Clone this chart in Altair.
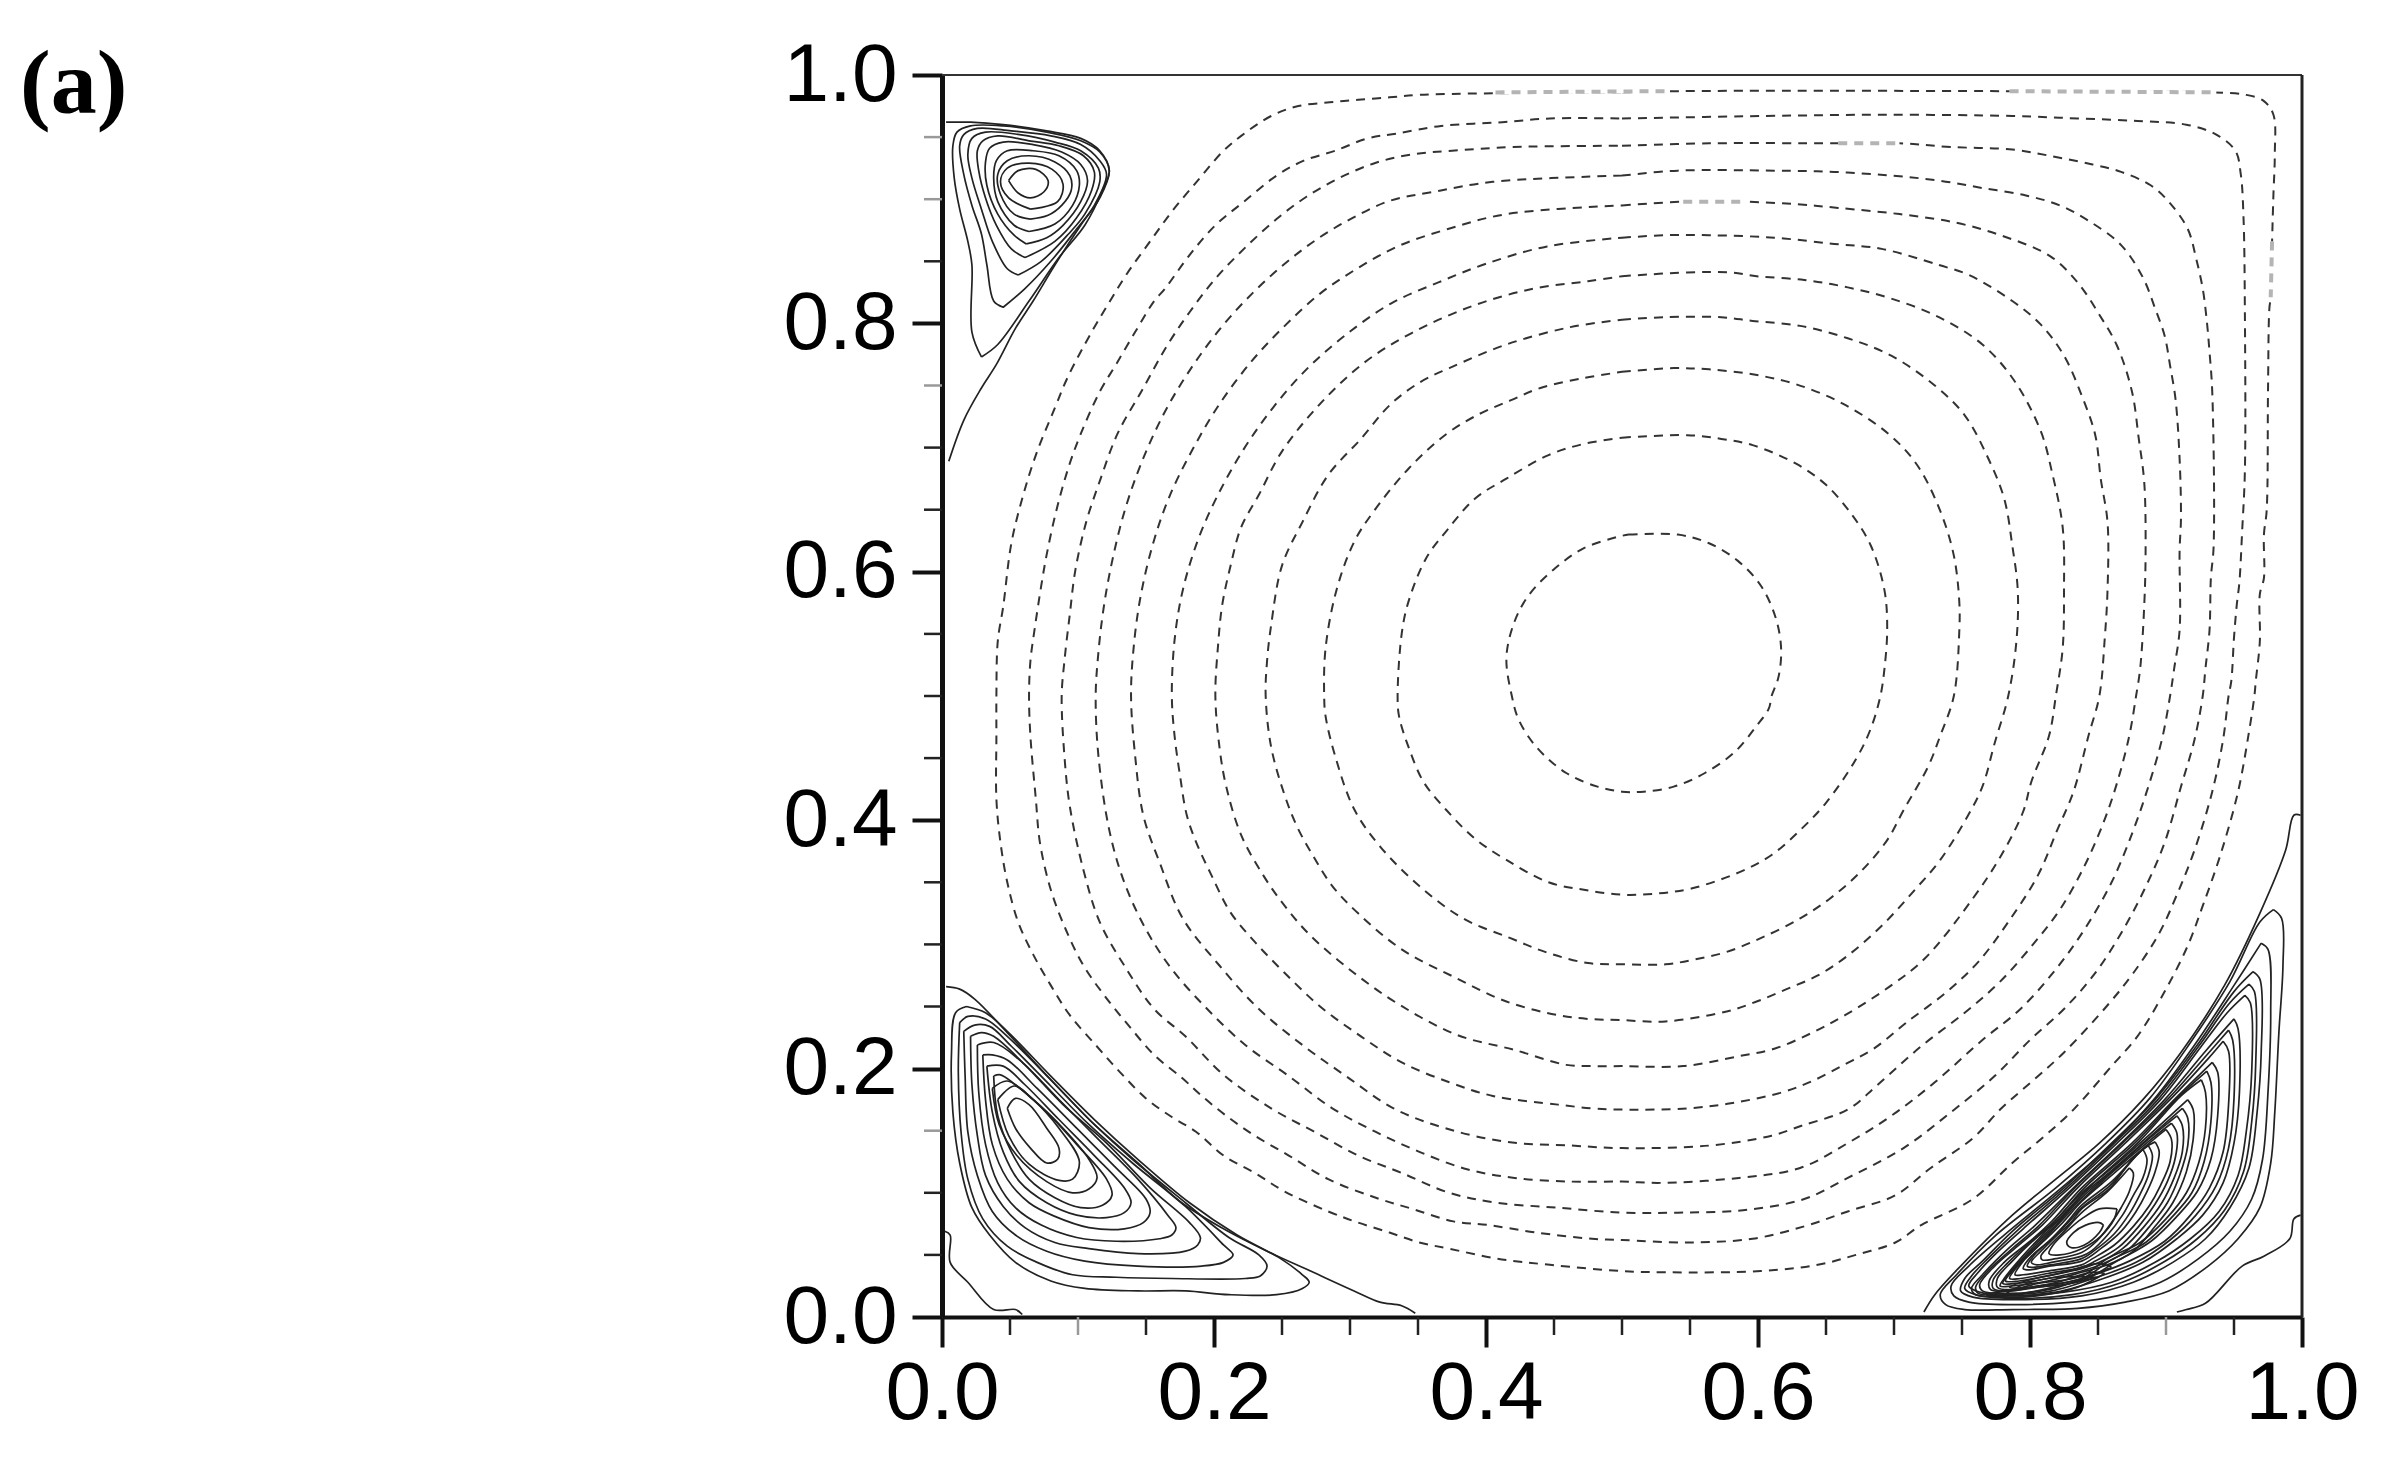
import altair as alt
import pandas as pd

c1 = [(.505,.630),(.541,.630),(.564,.623),(.585,.609),(.602,.589),(.613,.563),(.617,.538),(.615,.515),(.610,.500),(.608,.490),(.599,.476),(.583,.455),(.561,.438),(.538,.427),(.516,.423),(.500,.423),(.482,.427),(.459,.438),(.437,.459),(.424,.481),(.419,.500),(.415,.531),(.421,.560),(.432,.582),(.451,.603),(.472,.619),(.500,.629)]
c2 = [(.500,.708),(.548,.710),(.573,.707),(.596,.702),(.628,.687),(.650,.670),(.669,.646),(.683,.621),(.693,.585),(.695,.554),(.693,.522),(.690,.500),(.683,.474),(.672,.449),(.650,.414),(.631,.392),(.610,.372),(.586,.358),(.551,.345),(.526,.341),(.500,.340),(.472,.344),(.446,.350),(.415,.368),(.392,.385),(.371,.408),(.354,.431),(.343,.459),(.336,.484),(.335,.500),(.338,.550),(.343,.576),(.356,.611),(.371,.633),(.392,.659),(.415,.675),(.446,.694),(.472,.703)]
c3 = [(.500,.761),(.538,.764),(.564,.763),(.596,.759),(.628,.751),(.663,.735),(.696,.711),(.717,.686),(.734,.649),(.744,.613),(.748,.576),(.748,.552),(.744,.500),(.734,.468),(.725,.443),(.707,.408),(.695,.384),(.675,.358),(.653,.337),(.631,.321),(.602,.305),(.577,.294),(.554,.288),(.532,.284),(.500,.284),(.475,.285),(.446,.293),(.418,.305),(.383,.321),(.351,.347),(.322,.379),(.303,.409),(.289,.452),(.282,.484),(.281,.500),(.282,.538),(.290,.585),(.303,.624),(.317,.648),(.343,.683),(.371,.711),(.395,.727),(.418,.738),(.440,.748),(.472,.756)]
c4 = [(.500,.803),(.532,.805),(.573,.805),(.596,.802),(.631,.798),(.666,.788),(.698,.774),(.730,.750),(.752,.726),(.769,.692),(.781,.659),(.787,.621),(.791,.585),(.790,.544),(.784,.500),(.774,.462),(.765,.427),(.754,.403),(.734,.368),(.717,.346),(.691,.315),(.666,.291),(.644,.275),(.621,.264),(.599,.254),(.577,.246),(.532,.238),(.500,.239),(.475,.240),(.453,.243),(.415,.254),(.376,.274),(.338,.296),(.306,.325),(.287,.347),(.273,.371),(.261,.395),(.252,.420),(.242,.459),(.238,.500),(.239,.528),(.242,.557),(.250,.605),(.265,.640),(.284,.678),(.308,.707),(.330,.735),(.352,.753),(.373,.764),(.415,.783),(.462,.797)]
c5 = [(.500,.838),(.548,.841),(.580,.841),(.599,.838),(.634,.835),(.666,.829),(.698,.820),(.733,.805),(.765,.783),(.789,.753),(.808,.713),(.816,.681),(.824,.636),(.825,.585),(.824,.538),(.819,.500),(.814,.468),(.801,.431),(.795,.407),(.779,.372),(.758,.337),(.723,.289),(.698,.267),(.664,.243),(.640,.229),(.612,.216),(.586,.210),(.545,.202),(.500,.202),(.478,.202),(.459,.203),(.421,.215),(.379,.227),(.337,.251),(.303,.277),(.271,.307),(.252,.331),(.236,.356),(.220,.388),(.209,.427),(.204,.459),(.201,.500),(.203,.541),(.206,.573),(.212,.604),(.220,.636),(.233,.662),(.250,.697),(.277,.734),(.310,.768),(.345,.792),(.390,.814),(.435,.828),(.475,.834)]
c6 = [(.500,.869),(.532,.871),(.564,.871),(.612,.869),(.656,.864),(.691,.860),(.733,.847),(.755,.839),(.787,.818),(.808,.799),(.825,.774),(.838,.742),(.848,.710),(.852,.675),(.857,.640),(.857,.585),(.855,.547),(.851,.500),(.843,.468),(.832,.423),(.820,.392),(.806,.356),(.784,.318),(.762,.286),(.739,.262),(.709,.237),(.685,.216),(.663,.203),(.640,.190),(.618,.181),(.585,.173),(.549,.168),(.500,.167),(.478,.168),(.453,.171),(.405,.178),(.373,.189),(.338,.205),(.308,.226),(.278,.250),(.252,.277),(.230,.302),(.212,.326),(.198,.356),(.187,.382),(.180,.404),(.175,.436),(.171,.468),(.169,.500),(.171,.545),(.177,.585),(.188,.625),(.202,.660),(.222,.699),(.244,.733),(.268,.763),(.296,.790),(.330,.816),(.365,.833),(.400,.848),(.445,.862)]
c7 = [(.500,.895),(.545,.898),(.589,.898),(.628,.896),(.659,.893),(.704,.888),(.746,.881),(.781,.870),(.815,.854),(.835,.833),(.851,.807),(.864,.782),(.875,.745),(.880,.707),(.884,.672),(.885,.617),(.884,.573),(.881,.522),(.878,.500),(.873,.468),(.864,.430),(.854,.398),(.840,.363),(.822,.328),(.803,.301),(.778,.270),(.752,.245),(.720,.218),(.687,.186),(.666,.167),(.632,.154),(.610,.146),(.564,.138),(.500,.136),(.463,.138),(.415,.141),(.370,.152),(.332,.168),(.297,.194),(.265,.219),(.233,.248),(.204,.283),(.177,.321),(.160,.366),(.148,.404),(.142,.452),(.139,.500),(.141,.540),(.146,.580),(.155,.622),(.167,.660),(.184,.698),(.204,.735),(.228,.770),(.252,.798),(.278,.824),(.305,.844),(.335,.862),(.372,.876),(.415,.888)]
c8 = [(.500,.919),(.541,.923),(.612,.923),(.656,.922),(.698,.919),(.733,.915),(.765,.909),(.797,.903),(.822,.895),(.844,.882),(.867,.863),(.883,.837),(.892,.812),(.899,.790),(.903,.766),(.907,.739),(.910,.691),(.911,.643),(.910,.617),(.910,.553),(.906,.522),(.903,.500),(.897,.465),(.887,.427),(.876,.392),(.860,.350),(.840,.312),(.819,.280),(.793,.248),(.765,.223),(.730,.189),(.698,.162),(.666,.140),(.631,.120),(.586,.112),(.529,.108),(.500,.109),(.463,.109),(.421,.112),(.386,.119),(.351,.133),(.319,.149),(.287,.168),(.255,.194),(.223,.219),(.195,.248),(.169,.280),(.150,.312),(.134,.350),(.123,.392),(.115,.452),(.113,.500),(.115,.535),(.119,.572),(.125,.608),(.134,.648),(.146,.686),(.163,.727),(.182,.762),(.204,.795),(.228,.824),(.252,.848),(.276,.868),(.302,.885),(.330,.899),(.362,.906),(.405,.914)]
c9 = [(.500,.943),(.564,.945),(.659,.945),(.704,.945),(.742,.942),(.787,.940),(.819,.934),(.846,.928),(.867,.922),(.889,.911),(.902,.898),(.916,.876),(.922,.853),(.927,.828),(.930,.802),(.932,.777),(.934,.745),(.935,.620),(.933,.595),(.932,.553),(.929,.522),(.927,.500),(.921,.465),(.911,.427),(.899,.382),(.884,.344),(.867,.309),(.848,.277),(.825,.248),(.800,.223),(.774,.194),(.742,.165),(.707,.136),(.666,.112),(.634,.095),(.589,.086),(.541,.084),(.500,.084),(.453,.088),(.408,.092),(.373,.100),(.338,.116),(.306,.130),(.274,.149),(.242,.168),(.207,.195),(.179,.226),(.156,.248),(.134,.283),(.116,.318),(.104,.360),(.094,.411),(.090,.452),(.088,.500),(.090,.528),(.094,.566),(.098,.601),(.106,.640),(.116,.673),(.129,.711),(.147,.746),(.166,.783),(.182,.809),(.201,.836),(.222,.860),(.246,.884),(.268,.902),(.292,.917),(.318,.929),(.345,.936),(.375,.939),(.420,.942)]
c10 = [(.500,.965),(.605,.967),(.691,.968),(.787,.967),(.835,.965),(.879,.963),(.915,.960),(.937,.952),(.951,.939),(.955,.920),(.957,.885),(.958,.809),(.958,.681),(.956,.633),(.954,.592),(.952,.573),(.950,.547),(.948,.512),(.946,.500),(.942,.465),(.934,.423),(.921,.376),(.908,.340),(.895,.309),(.876,.277),(.857,.251),(.825,.213),(.806,.194),(.779,.168),(.758,.144),(.727,.120),(.701,.098),(.666,.085),(.634,.073),(.596,.063),(.548,.060),(.500,.062),(.478,.063),(.437,.068),(.402,.074),(.376,.077),(.346,.087),(.319,.096),(.284,.111),(.255,.130),(.230,.146),(.209,.162),(.191,.178),(.177,.192),(.156,.211),(.137,.235),(.120,.258),(.104,.283),(.091,.312),(.080,.344),(.072,.382),(.069,.417),(.065,.468),(.064,.500),(.065,.528),(.068,.553),(.073,.589),(.077,.614),(.084,.649),(.093,.684),(.102,.711),(.116,.745),(.128,.767),(.142,.793),(.156,.818),(.164,.828),(.182,.855),(.201,.879),(.222,.898),(.246,.919),(.266,.931),(.289,.939),(.313,.949),(.335,.953),(.367,.959),(.412,.962),(.447,.965)]
c11 = [(.500,.986),(.541,.987),(.781,.987),(.934,.986),(.959,.984),(.972,.979),(.979,.968),(.980,.936),(.979,.904),(.978,.866),(.977,.821),(.976,.812),(.975,.745),(.974,.649),(.972,.630),(.972,.595),(.969,.582),(.969,.544),(.966,.512),(.965,.500),(.961,.471),(.953,.423),(.940,.372),(.927,.331),(.916,.299),(.899,.262),(.879,.226),(.860,.202),(.832,.167),(.811,.146),(.787,.124),(.758,.095),(.720,.074),(.701,.060),(.672,.050),(.644,.042),(.602,.037),(.532,.036),(.500,.037),(.447,.042),(.408,.047),(.373,.055),(.351,.060),(.329,.068),(.306,.076),(.284,.085),(.252,.101),(.230,.116),(.207,.130),(.187,.149),(.169,.161),(.150,.176),(.131,.197),(.113,.219),(.094,.243),(.080,.267),(.067,.292),(.056,.318),(.048,.350),(.043,.382),(.040,.417),(.040,.468),(.040,.500),(.041,.544),(.045,.572),(.051,.623),(.059,.659),(.069,.694),(.083,.732),(.093,.758),(.110,.793),(.123,.817),(.136,.840),(.153,.866),(.169,.890),(.188,.915),(.207,.939),(.220,.951),(.242,.967),(.262,.975),(.285,.978),(.306,.980),(.329,.982),(.351,.984),(.386,.985)]

# stretches of the dashed contours that print pale grey
pale1 = [(.407,.986),(.535,.987)]
pale2 = [(.785,.987),(.937,.986)]
pale3 = [(.978,.866),(.977,.821)]
pale4 = [(.659,.945),(.704,.945)]
pale5 = [(.545,.898),(.589,.898)]

# solid open lines along the cell walls
wall_tl = [(.005,.689),(.016,.722),(.029,.748),(.040,.767),(.054,.796),(.067,.818),(.083,.847),(.102,.879),(.116,.901),(.123,.923),(.116,.939),(.102,.949),(.077,.955),(.045,.960),(.021,.962),(.003,.962)]
wall_bl = [(.003,.266),(.013,.264),(.024,.256),(.048,.229),(.080,.191),(.112,.155),(.144,.124),(.175,.093),(.207,.071),(.239,.053),(.271,.037),(.303,.021),(.322,.012),(.338,.009),(.348,.003)]
wall_bl2 = [(.002,.069),(.006,.066),(.006,.044),(.019,.028),(.038,.006),(.054,.006),(.059,.002)]
wall_br = [(.722,.004),(.730,.018),(.749,.041),(.787,.082),(.819,.111),(.851,.140),(.883,.175),(.911,.213),(.943,.267),(.969,.325),(.988,.376),(.994,.404),(.999,.404)]
wall_br2 = [(.908,.004),(.915,.006),(.929,.011),(.956,.041),(.972,.049),(.991,.063),(.994,.079),(.999,.082)]

# top-left eddy
v1 = [(.029,.773),(.022,.793),(.022,.847),(.019,.866),(.013,.892),(.009,.917),(.008,.943),(.011,.954),(.021,.959),(.045,.959),(.077,.954),(.102,.947),(.116,.938),(.123,.923),(.118,.907),(.105,.879),(.086,.853),(.064,.818),(.041,.783)]
v2 = [(.045,.813),(.038,.818),(.033,.847),(.029,.872),(.022,.895),(.016,.920),(.013,.943),(.016,.952),(.026,.957),(.051,.955),(.080,.951),(.102,.944),(.116,.931),(.121,.920),(.112,.895),(.099,.876),(.080,.850),(.061,.828)]
v3 = [(.056,.839),(.048,.844),(.037,.866),(.029,.892),(.022,.917),(.019,.936),(.022,.949),(.032,.954),(.057,.952),(.083,.946),(.102,.939),(.115,.925),(.116,.914),(.105,.888),(.093,.872),(.073,.850)]
v4 = [(.061,.853),(.051,.860),(.040,.879),(.032,.901),(.027,.923),(.026,.939),(.030,.947),(.041,.951),(.064,.947),(.086,.943),(.104,.935),(.112,.922),(.110,.907),(.099,.885),(.083,.866)]
v5 = [(.062,.864),(.053,.871),(.041,.888),(.033,.911),(.032,.930),(.035,.941),(.045,.946),(.067,.944),(.088,.938),(.102,.928),(.107,.915),(.102,.898),(.089,.879),(.077,.869)]
v6 = [(.064,.874),(.053,.879),(.041,.898),(.038,.917),(.040,.931),(.048,.939),(.067,.939),(.086,.935),(.099,.923),(.101,.911),(.096,.895),(.083,.880)]
v7 = [(.065,.884),(.053,.888),(.043,.904),(.041,.920),(.048,.931),(.064,.935),(.083,.930),(.094,.919),(.095,.907),(.088,.895),(.078,.887)]
v8 = [(.065,.892),(.049,.901),(.043,.914),(.048,.925),(.064,.929),(.081,.924),(.089,.912),(.085,.898)]
v9 = [(.049,.915),(.056,.923),(.069,.924),(.078,.915),(.075,.906),(.065,.901),(.056,.905)]

# bottom-left eddy
b1 = [(.018,.250),(.010,.245),(.007,.213),(.008,.165),(.013,.124),(.022,.088),(.035,.066),(.054,.044),(.080,.029),(.105,.023),(.144,.021),(.179,.021),(.211,.018),(.246,.018),(.265,.023),(.270,.028),(.265,.034),(.249,.047),(.217,.066),(.182,.092),(.144,.127),(.112,.159),(.080,.194),(.048,.230),(.032,.245)]
b2 = [(.013,.237),(.012,.197),(.014,.149),(.019,.111),(.030,.079),(.048,.057),(.070,.044),(.096,.034),(.128,.032),(.169,.031),(.223,.031),(.234,.033),(.239,.041),(.233,.050),(.211,.064),(.179,.092),(.140,.127),(.112,.155),(.080,.191),(.048,.226),(.032,.240),(.019,.242)]
b3 = [(.016,.230),(.017,.194),(.019,.149),(.026,.114),(.037,.085),(.054,.066),(.077,.053),(.105,.045),(.144,.041),(.191,.041),(.207,.044),(.214,.050),(.207,.058),(.179,.089),(.140,.124),(.108,.155),(.080,.186),(.051,.218),(.035,.234),(.024,.235)]
b4 = [(.021,.226),(.022,.187),(.026,.146),(.032,.114),(.045,.089),(.061,.072),(.083,.060),(.108,.055),(.144,.051),(.179,.053),(.188,.058),(.190,.064),(.182,.076),(.153,.104),(.121,.140),(.089,.171),(.061,.203),(.038,.226),(.029,.229)]
b5 = [(.026,.219),(.027,.181),(.032,.139),(.041,.108),(.054,.088),(.073,.074),(.099,.064),(.128,.061),(.160,.063),(.169,.066),(.172,.072),(.166,.082),(.144,.111),(.115,.143),(.086,.175),(.057,.207),(.038,.221)]
b6 = [(.030,.211),(.032,.175),(.037,.139),(.048,.111),(.064,.092),(.083,.081),(.108,.072),(.134,.071),(.148,.076),(.153,.084),(.150,.095),(.128,.120),(.099,.152),(.070,.184),(.048,.207),(.037,.211)]
b7 = [(.033,.202),(.037,.165),(.045,.133),(.057,.109),(.077,.092),(.099,.082),(.121,.080),(.134,.084),(.139,.092),(.134,.104),(.112,.130),(.086,.159),(.061,.187),(.045,.202)]
b8 = [(.038,.194),(.041,.162),(.051,.133),(.064,.111),(.083,.096),(.102,.088),(.118,.090),(.125,.098),(.121,.111),(.099,.139),(.077,.165),(.054,.187),(.043,.195)]
b9 = [(.037,.184),(.042,.155),(.055,.130),(.077,.109),(.096,.100),(.108,.103),(.114,.112),(.108,.127),(.089,.152),(.067,.175),(.048,.190)]
b10 = [(.041,.175),(.053,.186),(.067,.175),(.086,.152),(.101,.125),(.096,.111),(.086,.110),(.064,.123),(.049,.146)]
b11 = [(.048,.168),(.054,.176),(.064,.171),(.077,.152),(.086,.136),(.085,.127),(.077,.124),(.065,.136),(.054,.152)]

# bottom-right eddy
r1 = [(.979,.328),(.985,.321),(.986,.283),(.983,.229),(.980,.165),(.977,.124),(.969,.088),(.953,.063),(.931,.041),(.902,.021),(.870,.012),(.835,.007),(.787,.006),(.752,.006),(.738,.010),(.734,.018),(.746,.034),(.774,.065),(.819,.104),(.856,.140),(.888,.176),(.918,.221),(.947,.270),(.969,.318)]
r2 = [(.970,.301),(.975,.296),(.977,.245),(.975,.181),(.971,.127),(.963,.095),(.947,.069),(.924,.047),(.896,.028),(.864,.017),(.832,.012),(.787,.010),(.755,.012),(.744,.017),(.742,.025),(.755,.041),(.781,.066),(.822,.103),(.859,.138),(.891,.175),(.921,.219),(.950,.267)]
r3 = [(.964,.278),(.969,.272),(.970,.213),(.967,.165),(.961,.120),(.947,.088),(.929,.063),(.905,.044),(.876,.028),(.838,.017),(.787,.014),(.758,.016),(.749,.021),(.752,.031),(.765,.045),(.787,.069),(.825,.104),(.860,.140),(.892,.175),(.923,.219),(.950,.262)]
r3b = [(.961,.268),(.965,.262),(.966,.205),(.963,.157),(.957,.117),(.943,.086),(.923,.063),(.898,.044),(.868,.028),(.831,.018),(.787,.015),(.760,.018),(.752,.023),(.757,.033),(.769,.047),(.791,.070),(.827,.104),(.862,.140),(.894,.175),(.924,.218),(.947,.253)]
r4 = [(.958,.259),(.962,.253),(.963,.197),(.959,.149),(.953,.114),(.939,.085),(.918,.063),(.892,.044),(.860,.028),(.825,.020),(.787,.017),(.763,.020),(.755,.025),(.762,.036),(.774,.050),(.795,.071),(.829,.104),(.864,.140),(.896,.175),(.926,.218),(.945,.245)]
r5 = [(.950,.240),(.953,.232),(.954,.181),(.950,.140),(.942,.108),(.927,.082),(.908,.063),(.883,.044),(.854,.031),(.819,.020),(.787,.017),(.760,.018),(.757,.023),(.765,.034),(.784,.055),(.803,.073),(.832,.104),(.867,.140),(.899,.175),(.929,.214)]
r5b = [(.946,.231),(.949,.223),(.950,.176),(.946,.136),(.937,.106),(.922,.082),(.903,.062),(.878,.044),(.849,.032),(.816,.021),(.785,.018),(.762,.019),(.760,.024),(.769,.037),(.788,.056),(.806,.073),(.833,.104),(.868,.140),(.901,.175),(.930,.211)]
r6 = [(.942,.222),(.946,.214),(.946,.171),(.942,.133),(.932,.104),(.918,.082),(.899,.061),(.873,.045),(.845,.033),(.813,.022),(.784,.019),(.765,.021),(.763,.026),(.774,.041),(.792,.058),(.809,.074),(.835,.104),(.870,.140),(.903,.175),(.931,.208)]
r7 = [(.934,.205),(.938,.197),(.938,.162),(.933,.127),(.923,.101),(.908,.081),(.889,.061),(.864,.045),(.838,.029),(.806,.024),(.784,.021),(.771,.022),(.770,.029),(.781,.044),(.800,.061),(.816,.077),(.838,.104),(.875,.140),(.907,.176)]
r7b = [(.930,.198),(.933,.189),(.933,.157),(.928,.125),(.919,.100),(.904,.080),(.885,.060),(.860,.046),(.838,.031),(.806,.025),(.784,.021),(.773,.023),(.773,.030),(.784,.044),(.803,.063),(.819,.078),(.840,.104),(.877,.140),(.909,.177)]
r8 = [(.926,.191),(.929,.181),(.929,.152),(.924,.124),(.915,.100),(.900,.079),(.881,.060),(.857,.047),(.838,.033),(.806,.027),(.785,.022),(.776,.024),(.776,.031),(.787,.045),(.806,.065),(.822,.079),(.843,.104),(.880,.141),(.911,.178)]
r9 = [(.916,.175),(.920,.167),(.920,.143),(.915,.117),(.905,.092),(.892,.073),(.876,.053),(.857,.042),(.838,.036),(.813,.029),(.787,.025),(.778,.025),(.781,.031),(.793,.047),(.809,.066),(.838,.100),(.857,.117),(.884,.143)]
r9b = [(.912,.168),(.916,.160),(.916,.138),(.910,.114),(.901,.092),(.888,.073),(.872,.054),(.854,.043),(.838,.037),(.813,.031),(.789,.027),(.780,.027),(.784,.034),(.797,.050),(.814,.070),(.838,.098),(.858,.116),(.886,.143)]
r10 = [(.908,.162),(.912,.154),(.912,.133),(.906,.112),(.897,.092),(.884,.073),(.868,.055),(.851,.044),(.838,.039),(.813,.033),(.792,.029),(.782,.029),(.787,.037),(.801,.053),(.819,.074),(.838,.096),(.859,.116),(.888,.144)]
r10b = [(.904,.156),(.908,.148),(.907,.129),(.901,.109),(.892,.091),(.880,.073),(.865,.056),(.848,.045),(.838,.040),(.813,.035),(.793,.031),(.785,.031),(.791,.041),(.805,.056),(.821,.075),(.838,.094),(.859,.115),(.889,.143)]
r11 = [(.900,.151),(.904,.143),(.903,.125),(.896,.106),(.888,.090),(.876,.073),(.862,.058),(.846,.047),(.838,.042),(.813,.037),(.795,.034),(.789,.034),(.795,.045),(.809,.060),(.824,.076),(.838,.093),(.860,.114),(.891,.143)]
r12 = [(.892,.141),(.895,.133),(.892,.117),(.886,.101),(.878,.085),(.867,.069),(.852,.055),(.838,.045),(.814,.041),(.800,.038),(.795,.039),(.801,.049),(.814,.061),(.827,.076),(.838,.090),(.860,.109),(.884,.136)]
r12b = [(.887,.138),(.890,.130),(.887,.114),(.881,.099),(.873,.083),(.862,.067),(.848,.054),(.838,.047),(.815,.042),(.802,.040),(.798,.041),(.804,.051),(.816,.063),(.828,.076),(.838,.088),(.859,.106),(.879,.131)]
r13 = [(.883,.135),(.886,.127),(.883,.112),(.876,.098),(.868,.082),(.857,.066),(.845,.053),(.838,.049),(.816,.044),(.805,.042),(.801,.044),(.808,.053),(.819,.065),(.830,.076),(.838,.087),(.859,.104),(.875,.127)]
r14 = [(.873,.120),(.876,.116),(.873,.101),(.867,.088),(.860,.076),(.849,.061),(.838,.052),(.819,.047),(.809,.046),(.808,.049),(.814,.057),(.825,.069),(.838,.084),(.857,.101)]
r15 = [(.864,.087),(.862,.079),(.852,.065),(.838,.055),(.822,.050),(.814,.051),(.817,.058),(.829,.071),(.838,.079),(.851,.087)]
r16 = [(.854,.074),(.851,.068),(.840,.058),(.830,.056),(.827,.060),(.832,.068),(.841,.074),(.851,.076)]
e7 = [(.855,.035),(.835,.024),(.805,.017),(.778,.016),(.768,.018),(.790,.022),(.820,.028),(.845,.036)]
e8 = [(.860,.040),(.835,.030),(.805,.024),(.785,.024),(.800,.030),(.825,.036),(.850,.043)]
e9 = [(.850,.032),(.825,.026),(.800,.020),(.782,.018),(.795,.026),(.820,.032)]

dashed = [c1, c2, c3, c4, c5, c6, c7, c8, c9, c10, c11]
pale = [pale1, pale2, pale3, pale4, pale5]
open_solid = [wall_tl, wall_bl, wall_bl2, wall_br, wall_br2]
closed_solid = [v1, v2, v3, v4, v5, v6, v7, v8, v9,
                b1, b2, b3, b4, b5, b6, b7, b8, b9, b10, b11,
                r1, r2, r3, r3b, r4, r5, r5b, r6, r7, r7b, r8, r9, r9b, r10, r10b, r11,
                r12, r12b, r13, r14, r15, r16, e7, e8, e9]

major_ticks = [0.0, 0.2, 0.4, 0.6, 0.8, 1.0]
x_minor_dark = [.05, .15, .25, .3, .35, .45, .5, .55, .65, .7, .75, .85, .95]
x_minor_pale = [.1, .9]
y_minor_dark = [.05, .1, .25, .3, .35, .45, .5, .55, .65, .7, .85]
y_minor_pale = [.15, .75, .9, .95]


def table(curves, close):
    rows = []
    for i, curve in enumerate(curves):
        pts = list(curve) + ([curve[0]] if close else [])
        for j, (x, y) in enumerate(pts):
            rows.append({"id": i, "seq": j, "x": x, "y": y})
    return pd.DataFrame(rows)


W, H = 1360, 1242
scale = alt.Scale(domain=[0, 1], nice=False, zero=False)
X = alt.X("x:Q", scale=scale,
          axis=alt.Axis(values=major_ticks, format=".1f", title=None, grid=False,
                        domainWidth=4, domainColor="#111", tickColor="#111",
                        tickWidth=4, tickSize=30, labelFontSize=82, labelFlush=False,
                        labelOverlap=False, labelFont="Liberation Sans", labelColor="#000",
                        labelPadding=6))
Y = alt.Y("y:Q", scale=scale,
          axis=alt.Axis(values=major_ticks, format=".1f", title=None, grid=False,
                        domainWidth=5, domainColor="#111", tickColor="#111",
                        tickWidth=4, tickSize=30, labelFontSize=82, labelFlush=False,
                        labelOverlap=False, labelFont="Liberation Sans", labelColor="#000",
                        labelPadding=15))

dash_layer = alt.Chart(table(dashed, True)).mark_line(
    interpolate="catmull-rom", stroke="#333", strokeWidth=2, strokeDash=[9, 7], clip=True
).encode(x=X, y=Y, detail="id:N", order="seq:Q")

pale_mask = alt.Chart(table(pale, False)).mark_line(
    stroke="white", strokeWidth=4, clip=True
).encode(x=X, y=Y, detail="id:N", order="seq:Q")
pale_layer = alt.Chart(table(pale, False)).mark_line(
    stroke="#b4b4b4", strokeWidth=4, strokeDash=[9, 7], clip=True
).encode(x=X, y=Y, detail="id:N", order="seq:Q")

solid_closed = alt.Chart(table(closed_solid, True)).mark_line(
    interpolate="catmull-rom", stroke="#222", strokeWidth=1.7, clip=True
).encode(x=X, y=Y, detail="id:N", order="seq:Q")

solid_open = alt.Chart(table(open_solid, False)).mark_line(
    interpolate="catmull-rom", stroke="#222", strokeWidth=1.7, clip=True
).encode(x=X, y=Y, detail="id:N", order="seq:Q")


def x_ticks(values, colour):
    return alt.Chart(pd.DataFrame({"x": values})).mark_rule(stroke=colour, strokeWidth=2.5).encode(
        x=X, y=alt.value(H), y2=alt.value(H + 18))


def y_ticks(values, colour):
    return alt.Chart(pd.DataFrame({"y": values})).mark_rule(stroke=colour, strokeWidth=2.5).encode(
        y=Y, x=alt.value(-18), x2=alt.value(0))


edge_top = alt.Chart(pd.DataFrame({"y": [1.0]})).mark_rule(stroke="#333", strokeWidth=2).encode(y=Y)
edge_right = alt.Chart(pd.DataFrame({"x": [1.0]})).mark_rule(stroke="#222", strokeWidth=3).encode(x=X)

panel_label = alt.Chart(pd.DataFrame({"t": ["(a)"]})).mark_text(
    font="Liberation Serif", fontWeight="bold", fontSize=92, align="left",
    baseline="alphabetic", color="#000"
).encode(text="t:N", x=alt.value(-922), y=alt.value(38))

chart = alt.layer(
    dash_layer, pale_mask, pale_layer, solid_open, solid_closed,
    x_ticks(x_minor_dark, "#222"), x_ticks(x_minor_pale, "#999"),
    y_ticks(y_minor_dark, "#222"), y_ticks(y_minor_pale, "#999"),
    edge_top, edge_right, panel_label
).properties(
    width=W, height=H,
    autosize=alt.AutoSizeParams(type="none"),
    padding={"left": 934, "top": 67, "right": 80, "bottom": 137},
).configure_view(stroke=None).configure(background="white")

chart.save("out.html", embed_options={"renderer": "svg", "actions": False})
